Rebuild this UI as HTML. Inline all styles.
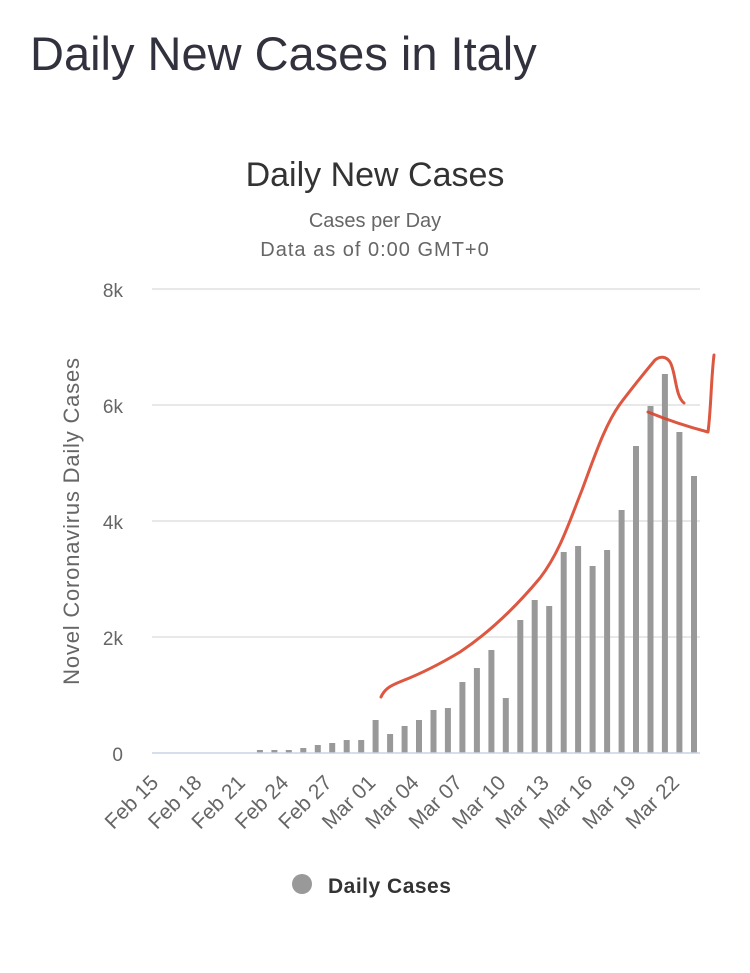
<!DOCTYPE html>
<html><head><meta charset="utf-8"><style>
body{margin:0;background:#fff;width:750px;height:968px;overflow:hidden;font-family:"Liberation Sans",sans-serif}
</style></head><body>
<svg width="750" height="968" xmlns="http://www.w3.org/2000/svg" font-family="Liberation Sans, sans-serif">
<text x="30" y="70" font-size="47" fill="#32323e">Daily New Cases in Italy</text>
<text x="375" y="186" font-size="34" fill="#333" text-anchor="middle">Daily New Cases</text>
<text x="375" y="227" font-size="20" fill="#666" text-anchor="middle">Cases per Day</text>
<text x="375" y="256" font-size="20" fill="#666" text-anchor="middle" letter-spacing="1">Data as of 0:00 GMT+0</text>
<g stroke="#e0e0e0" stroke-width="1.5">
<line x1="152" y1="289" x2="700" y2="289"/><line x1="152" y1="405" x2="700" y2="405"/>
<line x1="152" y1="521" x2="700" y2="521"/><line x1="152" y1="637" x2="700" y2="637"/>
</g>
<g font-size="19" fill="#666" text-anchor="end">
<text x="123" y="297">8k</text><text x="123" y="413">6k</text><text x="123" y="529">4k</text><text x="123" y="645">2k</text><text x="123" y="761">0</text>
</g>
<text transform="translate(79,521) rotate(-90)" font-size="22" fill="#666" text-anchor="middle" letter-spacing="0.8">Novel Coronavirus Daily Cases</text>
<g fill="#999">
<rect x="256.9" y="750" width="6" height="3"/>
<rect x="271.4" y="750" width="6" height="3"/>
<rect x="285.8" y="750" width="6" height="3"/>
<rect x="300.3" y="748" width="6" height="5"/>
<rect x="314.8" y="745" width="6" height="8"/>
<rect x="329.2" y="743" width="6" height="10"/>
<rect x="343.7" y="740" width="6" height="13"/>
<rect x="358.2" y="740" width="6" height="13"/>
<rect x="372.6" y="720" width="6" height="33"/>
<rect x="387.1" y="734" width="6" height="19"/>
<rect x="401.6" y="726" width="6" height="27"/>
<rect x="416.0" y="720" width="6" height="33"/>
<rect x="430.5" y="710" width="6" height="43"/>
<rect x="444.9" y="708" width="6" height="45"/>
<rect x="459.4" y="682" width="6" height="71"/>
<rect x="473.9" y="668" width="6" height="85"/>
<rect x="488.4" y="650" width="6" height="103"/>
<rect x="502.8" y="698" width="6" height="55"/>
<rect x="517.3" y="620" width="6" height="133"/>
<rect x="531.7" y="600" width="6" height="153"/>
<rect x="546.2" y="606" width="6" height="147"/>
<rect x="560.7" y="552" width="6" height="201"/>
<rect x="575.1" y="546" width="6" height="207"/>
<rect x="589.6" y="566" width="6" height="187"/>
<rect x="604.1" y="550" width="6" height="203"/>
<rect x="618.6" y="510" width="6" height="243"/>
<rect x="633.0" y="446" width="6" height="307"/>
<rect x="647.5" y="406" width="6" height="347"/>
<rect x="661.9" y="374" width="6" height="379"/>
<rect x="676.4" y="432" width="6" height="321"/>
<rect x="691.0" y="476" width="6" height="277"/>
</g>
<line x1="152" y1="753" x2="700" y2="753" stroke="#c8d3e6" stroke-width="1.5"/>
<g font-size="21" fill="#666" text-anchor="end">
<text transform="translate(159.6,784) rotate(-45)">Feb 15</text>
<text transform="translate(203.0,784) rotate(-45)">Feb 18</text>
<text transform="translate(246.4,784) rotate(-45)">Feb 21</text>
<text transform="translate(289.8,784) rotate(-45)">Feb 24</text>
<text transform="translate(333.3,784) rotate(-45)">Feb 27</text>
<text transform="translate(376.7,784) rotate(-45)">Mar 01</text>
<text transform="translate(420.1,784) rotate(-45)">Mar 04</text>
<text transform="translate(463.5,784) rotate(-45)">Mar 07</text>
<text transform="translate(506.9,784) rotate(-45)">Mar 10</text>
<text transform="translate(550.3,784) rotate(-45)">Mar 13</text>
<text transform="translate(593.7,784) rotate(-45)">Mar 16</text>
<text transform="translate(637.1,784) rotate(-45)">Mar 19</text>
<text transform="translate(680.5,784) rotate(-45)">Mar 22</text>
</g>
<g fill="none" stroke="#d9452c" stroke-width="3" stroke-linecap="round" stroke-linejoin="round" opacity="0.9">
<path d="M381,697 C385,688 392,685 402,681 C420,674 440,664 460,652 C490,632 515,608 540,578 C560,552 570,520 582,490 C595,455 605,425 620,404 C632,388 645,372 655,360 C660,356 666,356 670,362 C676,372 675,396 684,403"/>
<path d="M648,412 C665,419 685,426 708,432 C711,410 711,380 714,355"/>
</g>
<circle cx="302" cy="884" r="10" fill="#999"/>
<text x="328" y="893" font-size="21" font-weight="bold" fill="#333" letter-spacing="0.5">Daily Cases</text>
</svg>
</body></html>
